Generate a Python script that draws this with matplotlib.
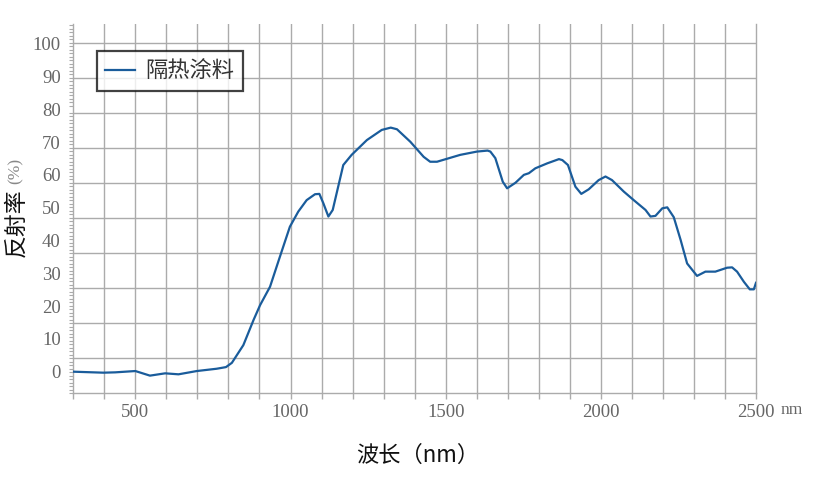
import matplotlib
matplotlib.use("Agg")
import matplotlib.pyplot as plt
from matplotlib.ticker import FixedLocator, NullFormatter
import numpy as np

# ---------------- data ----------------
wavelength = [300, 397, 435, 500, 547, 596, 639, 698, 762, 792, 811, 848, 881, 902,
              934, 966, 998, 1025, 1052, 1079, 1093, 1106, 1122, 1136, 1170, 1197,
              1246, 1294, 1323, 1343, 1386, 1429, 1450, 1472, 1547, 1601, 1635, 1644,
              1660, 1684, 1698, 1725, 1752, 1768, 1789, 1827, 1865, 1876, 1894, 1918,
              1937, 1961, 1993, 2015, 2036, 2074, 2106, 2144, 2160, 2176, 2198, 2214,
              2235, 2257, 2278, 2310, 2337, 2369, 2407, 2423, 2439, 2461, 2480, 2493, 2500]
reflectance = [0.0, -0.3, -0.2, 0.2, -1.2, -0.5, -0.8, 0.2, 0.9, 1.4, 2.7, 8.1, 15.8, 20.3,
               25.9, 35.1, 44.2, 48.8, 52.3, 54.1, 54.2, 51.3, 47.3, 49.3, 63.0, 66.1,
               70.6, 73.7, 74.4, 73.9, 70.1, 65.5, 64.0, 64.0, 66.1, 67.1, 67.4, 67.1,
               65.1, 57.9, 55.9, 57.6, 60.0, 60.5, 62.0, 63.5, 64.8, 64.5, 63.0, 56.4,
               54.2, 55.6, 58.4, 59.5, 58.4, 54.9, 52.3, 49.3, 47.3, 47.5, 49.8, 50.1,
               47.1, 40.2, 33.0, 29.2, 30.5, 30.5, 31.7, 31.8, 30.5, 27.4, 25.1, 25.1, 27.1]
series_name = "隔热涂料"
x_tick_values = [500, 1000, 1500, 2000, 2500]
y_tick_values = [0, 10, 20, 30, 40, 50, 60, 70, 80, 90, 100]

# ---------------- style ----------------
LINE_C = "#1a5c9b"
GRID_C = "#ababab"
TICK_C = "#666666"
YMIN, YMAX = -6.59, 105.9
GSTEP = 10.69

plt.rcParams['font.family'] = ['Noto Sans CJK SC', 'DejaVu Sans']

fig = plt.figure(figsize=(8.18, 4.8), dpi=100)
ax = fig.add_axes([0.0896, 0.1806, 0.9242 - 0.0896, 0.9494 - 0.1806])

ax.set_xlim(300, 2500)
ax.set_ylim(YMIN, YMAX)

# grid lines
for gx in range(400, 2500, 100):
    ax.axvline(gx, color=GRID_C, lw=1.0, zorder=0)
gy_positions = [YMIN + k * GSTEP for k in range(1, 11)]
for gy in gy_positions:
    ax.axhline(gy, color=GRID_C, lw=1.0, zorder=0)

ax.plot(wavelength, reflectance, color=LINE_C, lw=1.6, label=series_name, zorder=3)

# spines
ax.spines['top'].set_visible(False)
for s in ['left', 'right', 'bottom']:
    ax.spines[s].set_color(GRID_C)
    ax.spines[s].set_linewidth(1.0)

# x ticks
ax.xaxis.set_major_locator(FixedLocator(x_tick_values))
ax.xaxis.set_minor_locator(FixedLocator(list(range(300, 2501, 100))))
ax.xaxis.set_minor_formatter(NullFormatter())
ax.tick_params(axis='x', which='both', direction='out', length=4, width=1,
               color=GRID_C, pad=4)
ax.set_xticklabels([str(v) for v in x_tick_values],
                   fontfamily='Liberation Serif', fontsize=13.5, color=TICK_C)

# y ticks
ax.yaxis.set_major_locator(FixedLocator(y_tick_values))
minor_y = list(np.arange(YMIN, YMAX, GSTEP / 10.0))
ax.yaxis.set_minor_locator(FixedLocator(minor_y))
ax.yaxis.set_minor_formatter(NullFormatter())
ax.tick_params(axis='y', which='major', length=0, pad=9)
ax.tick_params(axis='y', which='minor', direction='out', length=3, width=0.8, color=GRID_C)
ax.set_yticklabels([str(v) for v in y_tick_values],
                   fontfamily='Liberation Serif', fontsize=13.5, color=TICK_C)

# "nm" unit next to last x label
ax.text(1.052, -0.045, "nm", transform=ax.transAxes, ha='center', va='center',
        fontfamily='Liberation Serif', fontsize=12.5, color=TICK_C)

# axis titles
fig.text(418 / 818, 1 - 455 / 480, "波长（nm）", ha='center', va='center',
         fontsize=16, color='#111111')
fig.text(16 / 818, 1 - 223 / 480, "反射率", ha='center', va='center', rotation=90,
         fontsize=16.5, color='#111111')
fig.text(16 / 818, 1 - 171 / 480, "(%)", ha='center', va='center', rotation=90,
         fontfamily='Liberation Serif', fontsize=12.5, color='#888888')

# legend
leg = ax.legend(loc='upper left', bbox_to_anchor=(0.034, 0.9285), fontsize=16,
                frameon=True, fancybox=False, handlelength=1.35, handletextpad=0.45,
                borderpad=0.4, borderaxespad=0)
leg.get_frame().set_edgecolor('#111111')
leg.get_frame().set_linewidth(1.6)
for t in leg.get_texts():
    t.set_color('#333333')

fig.savefig("out.png", dpi=100)
